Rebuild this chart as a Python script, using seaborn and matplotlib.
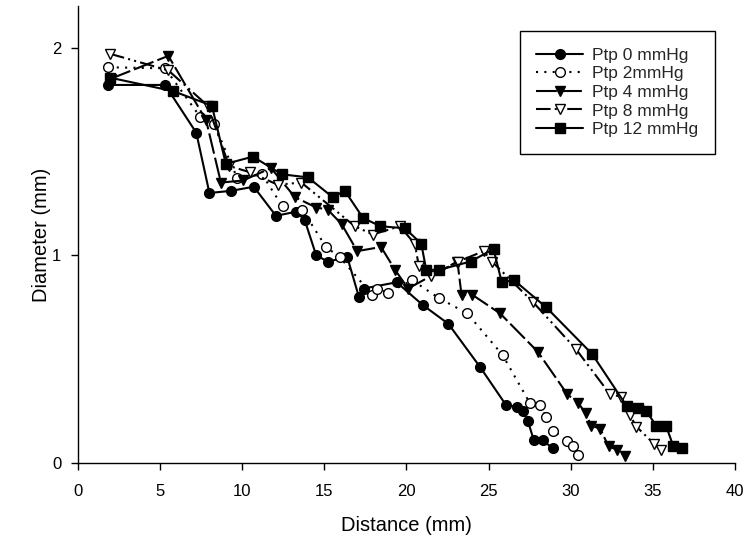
import matplotlib
matplotlib.use("Agg")
import matplotlib.pyplot as plt
import seaborn as sns

# Ptp 0 mmHg
x0 = [1.85, 5.3, 7.2, 8.0, 9.3, 10.7, 12.05, 13.3, 13.8, 14.5, 15.2, 16.4, 17.1, 17.4,
      19.4, 21.0, 22.55, 24.5, 26.05, 26.7, 27.1, 27.4, 27.75, 28.3, 28.9]
y0 = [1.82, 1.82, 1.59, 1.30, 1.31, 1.33, 1.19, 1.21, 1.17, 1.00, 0.97, 0.99, 0.80, 0.84,
      0.87, 0.76, 0.67, 0.46, 0.28, 0.27, 0.25, 0.20, 0.11, 0.11, 0.07]

# Ptp 2 mmHg
x1 = [1.85, 5.3, 7.45, 8.3, 9.7, 11.2, 12.45, 13.65, 15.1, 15.95, 17.9, 18.2, 18.9, 20.35,
      21.95, 23.7, 25.85, 27.5, 28.1, 28.5, 28.95, 29.75, 30.15, 30.45]
y1 = [1.905, 1.90, 1.665, 1.63, 1.37, 1.39, 1.235, 1.22, 1.04, 0.99, 0.81, 0.84, 0.82, 0.88,
      0.795, 0.72, 0.52, 0.29, 0.28, 0.22, 0.155, 0.107, 0.08, 0.04]

# Ptp 4 mmHg
x2 = [2.0, 5.5, 7.8, 8.7, 10.05, 11.75, 13.2, 14.5, 15.2, 16.05, 17.0, 18.45, 19.3, 20.1,
      23.1, 23.35, 24.0, 25.7, 28.0, 29.8, 30.45, 30.9, 31.25, 31.8, 32.3, 32.8, 33.3]
y2 = [1.85, 1.96, 1.65, 1.35, 1.36, 1.42, 1.28, 1.23, 1.22, 1.15, 1.02, 1.04, 0.93, 0.84,
      0.97, 0.81, 0.81, 0.72, 0.535, 0.33, 0.29, 0.24, 0.18, 0.165, 0.08, 0.065, 0.035]

# Ptp 8 mmHg
x3 = [1.95, 5.5, 7.9, 9.2, 10.45, 12.15, 13.6, 16.85, 17.95, 19.6, 20.5, 20.75, 21.5, 23.15,
      24.7, 25.2, 27.7, 30.3, 32.4, 33.05, 33.6, 34.0, 35.1, 35.5]
y3 = [1.97, 1.89, 1.72, 1.43, 1.40, 1.34, 1.35, 1.14, 1.10, 1.14, 1.055, 0.95, 0.90, 0.97,
      1.02, 0.97, 0.775, 0.55, 0.33, 0.32, 0.23, 0.175, 0.09, 0.063]

# Ptp 12 mmHg
x4 = [1.95, 5.8, 8.15, 9.0, 10.65, 12.4, 14.0, 15.5, 16.25, 17.35, 18.4, 19.9, 20.9, 21.2,
      22.0, 23.9, 25.3, 25.8, 26.55, 28.5, 31.3, 33.4, 34.1, 34.6, 35.2, 35.8, 36.25, 36.75]
y4 = [1.855, 1.79, 1.72, 1.44, 1.475, 1.39, 1.375, 1.28, 1.31, 1.18, 1.14, 1.13, 1.056, 0.93,
      0.93, 0.97, 1.03, 0.87, 0.88, 0.75, 0.525, 0.275, 0.265, 0.25, 0.18, 0.18, 0.08, 0.07]

labels = ["Ptp 0 mmHg", "Ptp 2mmHg", "Ptp 4 mmHg", "Ptp 8 mmHg", "Ptp 12 mmHg"]


def main():
    sns.set_style("ticks")
    plt.rcParams["font.family"] = ["Liberation Sans", "DejaVu Sans"]

    fig = plt.figure(figsize=(7.46, 5.46), dpi=100)
    ax = fig.add_axes([0.1046, 0.152, 0.8806, 0.837])

    styles = [
        dict(marker="o", mfc="black", ls="-"),
        dict(marker="o", mfc="white", ls=(0, (1, 3))),
        dict(marker="v", mfc="black", ls=(0, (10, 2))),
        dict(marker="v", mfc="white", ls=(0, (7, 2, 1, 2, 1, 2))),
        dict(marker="s", mfc="black", ls="-"),
    ]
    sizes = [7, 7, 7.5, 7.5, 6.5]
    series = [(x0, y0), (x1, y1), (x2, y2), (x3, y3), (x4, y4)]

    for (xs, ys), lab, st, ms in zip(series, labels, styles, sizes):
        sns.lineplot(
            x=xs, y=ys, ax=ax, sort=False, estimator=None,
            color="black", linewidth=1.5, label=lab,
            marker=st["marker"], markerfacecolor=st["mfc"],
            markeredgecolor="black", markeredgewidth=1.0,
            markersize=ms, linestyle=st["ls"],
        )

    ax.set_xlim(0, 40)
    ax.set_ylim(0, 2.2)
    ax.set_xticks(range(0, 41, 5))
    ax.set_yticks([0, 1, 2])
    ax.tick_params(axis="both", direction="out", length=5, width=1,
                   colors="black", labelsize=12)
    ax.tick_params(axis="x", pad=10)
    ax.tick_params(axis="y", pad=7)
    for side in ["top", "right"]:
        ax.spines[side].set_visible(False)
    for side in ["left", "bottom"]:
        ax.spines[side].set_color("black")
        ax.spines[side].set_linewidth(1.0)

    ax.set_xlabel("Distance (mm)", fontsize=14.5, labelpad=12, color="black")
    ax.set_ylabel("Diameter (mm)", fontsize=14.5, labelpad=1, color="black")

    leg = ax.legend(loc="upper left", bbox_to_anchor=(520 / 746, 1 - 31 / 546),
                    bbox_transform=fig.transFigure, frameon=True, fancybox=False,
                    edgecolor="black", framealpha=1, fontsize=12.5,
                    handlelength=2.7, labelspacing=0.2, borderpad=0.95,
                    handletextpad=0.5, borderaxespad=0)
    leg.get_frame().set_linewidth(1.0)

    fig.savefig("out.png", dpi=100)


if __name__ == "__main__":
    main()
